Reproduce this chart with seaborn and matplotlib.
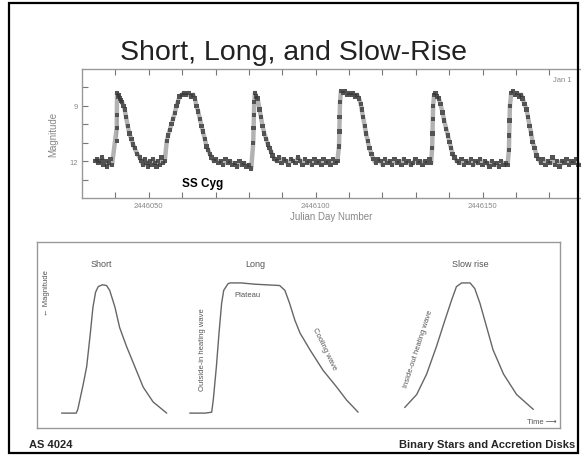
import numpy as np
import pandas as pd
import seaborn as sns
import matplotlib.pyplot as plt
from matplotlib.patches import Rectangle

# SS Cyg light curve, days after JD 2446000 and visual magnitude
JD0 = 2446000
ss_days = [34.0, 34.5, 35.0, 35.5, 36.0, 36.5, 37.0, 37.5, 38.0, 38.5, 39.0,
           40.4, 40.4, 40.4, 40.5, 40.8, 41.0, 41.3, 41.6, 42.0, 42.4, 42.8, 43.2, 43.7, 44.2, 44.8, 45.3, 45.8, 46.5, 47.3,
           47.8, 48.3, 48.8, 49.3, 49.8, 50.3, 50.8, 51.3, 51.8, 52.3, 52.8, 53.3, 53.8, 54.3, 54.8,
           55.4, 55.8, 56.3, 56.8, 57.3, 57.8, 58.3, 58.7, 59.2, 59.9, 60.5, 61.2, 61.9, 62.6, 63.3, 63.8,
           64.3, 64.8, 65.3, 65.8, 66.2, 66.8, 67.3, 67.8, 68.3,
           68.8, 69.5, 70.2, 70.9, 71.6, 72.3, 73.0, 73.7, 74.4, 75.1, 75.8, 76.5, 77.2, 77.9, 78.6, 79.3, 80.0, 80.7,
           81.3, 81.4, 81.5, 81.6, 81.8, 82.2, 82.6, 83.2, 83.6, 84.1, 84.6, 85.2, 85.7, 86.2, 86.7, 87.1,
           87.7, 88.4, 89.1, 89.8, 90.5, 91.2, 91.9, 92.6, 93.3, 94.0, 94.7, 95.4, 96.1, 96.8, 97.5, 98.2,
           98.9, 99.6, 100.3, 101.0, 101.7, 102.4, 103.1, 103.8, 104.5, 105.2, 105.9, 106.5,
           107.0, 107.1, 107.2, 107.3, 107.6, 108.2, 108.8, 109.4, 110.0, 110.6, 111.2, 111.8, 112.4, 113.0,
           113.5, 113.8, 114.2, 114.7, 115.1, 115.6, 116.1, 116.7,
           117.3, 118.0, 118.7, 119.4, 120.1, 120.8, 121.5, 122.2, 122.9, 123.6, 124.3, 125.0, 125.7, 126.4,
           127.1, 127.8, 128.5, 129.2, 129.9, 130.6, 131.3, 132.0, 132.7, 133.4, 134.1, 134.6,
           134.9, 135.0, 135.1, 135.2, 135.5, 135.9, 136.4, 136.9, 137.4, 138.0, 138.5, 139.1, 139.6, 140.1, 140.6, 141.0,
           141.6, 142.3, 143.0, 143.7, 144.4, 145.1, 145.8, 146.5, 147.2, 147.9, 148.6, 149.3, 150.0, 150.7,
           151.4, 152.1, 152.8, 153.5, 154.2, 154.9, 155.6, 156.3, 157.0, 157.5,
           157.9, 158.0, 158.1, 158.2, 158.6, 159.2, 159.8, 160.4, 161.0, 161.6, 162.0, 162.6, 163.2, 163.6,
           164.1, 164.6, 165.0, 165.6, 166.2,
           166.8, 167.5, 168.2, 168.9, 169.6, 170.3, 171.0, 171.7, 172.4, 173.1, 173.8, 174.5, 175.2, 175.9,
           176.6, 177.3, 178.0, 178.7]
ss_mag = [12.0, 11.9, 12.1, 12.0, 11.8, 12.2, 12.0, 12.3, 12.1, 11.9, 12.2,
          10.9, 10.2, 9.5, 8.3, 8.5, 8.4, 8.6, 8.7, 8.8, 9.0, 9.2, 9.6, 10.1, 10.5, 10.8, 11.1, 11.3, 11.6, 11.8,
          12.0, 12.2, 11.9, 12.1, 12.3, 12.0, 12.2, 11.9, 12.1, 12.3, 12.0, 12.2, 11.8, 12.1, 12.0,
          10.9, 10.6, 10.3, 10.0, 9.7, 9.4, 9.0, 8.8, 8.5, 8.4, 8.3, 8.4, 8.3, 8.5, 8.4, 8.6,
          9.0, 9.3, 9.7, 10.1, 10.4, 10.8, 11.2, 11.4, 11.6,
          11.8, 12.0, 11.9, 12.1, 12.0, 12.2, 11.9, 12.1, 12.0, 12.2, 12.1, 12.3, 12.0, 12.2, 12.1, 12.3, 12.2, 12.4,
          11.0, 10.2, 9.5, 8.8, 8.3, 8.5, 8.6, 9.2, 9.6, 10.1, 10.5, 10.8, 11.1, 11.3, 11.5, 11.7,
          11.9, 12.0, 11.8, 12.1, 11.9, 12.0, 12.2, 11.9, 12.0, 12.1, 11.8, 12.0, 12.2, 11.9, 12.1, 12.0,
          12.2, 11.9, 12.1, 12.0, 12.2, 11.9, 12.1, 12.0, 12.2, 11.9, 12.1, 12.0,
          11.2, 10.4, 9.6, 8.8, 8.2, 8.3, 8.2, 8.4, 8.3, 8.4, 8.3, 8.5, 8.4, 8.6,
          8.9, 9.2, 9.6, 10.1, 10.5, 10.9, 11.3, 11.6,
          11.9, 12.1, 11.9, 12.0, 12.2, 11.9, 12.1, 12.0, 12.2, 11.9, 12.1, 12.0, 12.2, 11.9,
          12.1, 12.0, 12.2, 12.1, 11.9, 12.1, 12.0, 12.2, 12.0, 12.1, 11.9, 12.1,
          11.3, 10.5, 9.7, 9.0, 8.4, 8.3, 8.5, 8.6, 8.9, 9.35, 9.8, 10.25, 10.6, 10.95, 11.3, 11.6,
          11.8, 12.0, 12.1, 11.9, 12.2, 12.0, 12.1, 11.9, 12.2, 12.0, 12.1, 11.9, 12.2, 12.0,
          12.1, 12.3, 12.0, 12.2, 12.1, 12.3, 12.0, 12.2, 12.1, 12.2,
          11.4, 10.6, 9.8, 9.0, 8.3, 8.2, 8.4, 8.3, 8.5, 8.4, 8.6, 8.9, 9.2, 9.6,
          10.1, 10.5, 10.95, 11.3, 11.7,
          11.9, 12.1, 11.9, 12.2, 12.0, 12.1, 11.8, 12.2, 12.0, 12.3, 12.0, 12.1, 11.9, 12.2,
          12.0, 12.1, 11.9, 12.2]

# schematic outburst profiles (arbitrary time units 0-100, brightness 0-10)
short_t = [4.7, 7.5, 7.8, 8.8, 9.5, 10.2, 10.7, 11.2, 11.7, 12.5, 13.3, 13.9, 14.9, 15.8, 17.1, 18.7, 20.3, 22.2, 24.8]
short_b = [0.8, 0.8, 1.0, 2.3, 3.3, 5.1, 6.5, 7.3, 7.6, 7.7, 7.66, 7.4, 6.5, 5.4, 4.4, 3.3, 2.2, 1.4, 0.8]
long_t = [29.2, 32.1, 33.4, 33.7, 34.3, 34.8, 35.3, 35.7, 36.5, 36.9, 39.0, 41.7, 46.4, 47.4, 48.3, 49.3,
          50.3, 52.2, 54.7, 57.3, 59.2, 61.4]
long_b = [0.8, 0.8, 0.85, 1.5, 3.3, 5.1, 6.7, 7.4, 7.75, 7.8, 7.8, 7.73, 7.66, 7.4, 6.7, 5.8,
          5.1, 4.2, 3.1, 2.2, 1.5, 0.85]
slow_t = [70.3, 72.6, 74.5, 76.4, 78.0, 79.3, 80.2, 81.2, 82.8, 83.7, 84.7, 86.0, 87.2, 89.2, 91.7, 94.9]
slow_b = [1.1, 1.8, 2.9, 4.4, 5.8, 6.9, 7.6, 7.8, 7.8, 7.5, 6.7, 5.4, 4.2, 2.9, 1.8, 1.0]

sns.set_style('white')
plt.rcParams['font.family'] = ['Liberation Sans', 'DejaVu Sans']

W, H = 581, 456
fig = plt.figure(figsize=(W / 100, H / 100), dpi=100)

def box(x0, y0, x1, y1):
    return [x0 / W, 1 - y1 / H, (x1 - x0) / W, (y1 - y0) / H]

fig.text(294 / W, 1 - 53 / H, 'Short, Long, and Slow-Rise', ha='center', va='center',
         fontsize=20.5, color='#222222')

# --- top panel: SS Cyg light curve
lc = pd.DataFrame({'jd': [JD0 + d for d in ss_days], 'mag': ss_mag})
ax1 = fig.add_axes(box(82, 70, 581, 199))
sns.lineplot(data=lc, x='jd', y='mag', sort=False, color='#555555', lw=3.2, alpha=0.45, ax=ax1)
sns.scatterplot(data=lc, x='jd', y='mag', marker='s', s=10, color='#1a1a1a', edgecolor='none',
                alpha=0.75, ax=ax1)
ax1.set_xlim(JD0 + 30, JD0 + 179.5)
ax1.set_ylim(14, 7)
xt = list(range(JD0 + 40, JD0 + 180, 10))
ax1.set_xticks(xt)
ax1.set_xticklabels([str(v) if v % 50 == 0 else '' for v in xt], fontsize=5.5, color='#888888')
ax1.set_yticks([8, 9, 10, 11, 12, 13])
ax1.set_yticklabels(['', '9', '', '', '12', ''], fontsize=5.5, color='#888888')
ax1.tick_params(direction='in', length=4, width=0.8, color='#777777', top=True, left=True,
                bottom=True, pad=3)
for s in ['left', 'top', 'bottom']:
    ax1.spines[s].set_color('#999999')
    ax1.spines[s].set_linewidth(1.0)
ax1.spines['right'].set_visible(False)
ax1.set_xlabel('Julian Day Number', fontsize=7, color='#888888', labelpad=1)
ax1.set_ylabel('Magnitude', fontsize=7, color='#888888', labelpad=8)
ax1.text(JD0 + 66, 13.2, 'SS Cyg', fontsize=8.5, fontweight='bold', color='black',
         ha='center', va='center')
ax1.text(JD0 + 171, 7.55, 'Jan 1', fontsize=5.5, color='#888888', ha='left', va='center')

# --- bottom panel: schematic outburst types
ax2 = fig.add_axes(box(37, 243, 560, 429))
for t, b in [(short_t, short_b), (long_t, long_b), (slow_t, slow_b)]:
    sns.lineplot(x=t, y=b, sort=False, color='#666666', lw=1.0, ax=ax2)
ax2.set_xlim(0, 100)
ax2.set_ylim(0, 10)
ax2.set_xticks([])
ax2.set_yticks([])
for s in ax2.spines.values():
    s.set_color('#999999')
    s.set_linewidth(1.0)

grey = '#555555'
ax2.text(12.3, 8.87, 'Short', fontsize=6.5, color=grey, ha='center', va='center')
ax2.text(41.8, 8.87, 'Long', fontsize=6.5, color=grey, ha='center', va='center')
ax2.text(82.8, 8.87, 'Slow rise', fontsize=6.5, color=grey, ha='center', va='center')
ax2.text(40.3, 7.2, 'Plateau', fontsize=5.5, color=grey, ha='center', va='center')
ax2.text(31.7, 4.25, 'Outside-in heating wave', fontsize=5.5, color=grey, rotation=90,
         ha='center', va='center')
ax2.text(55.0, 4.3, 'Cooling wave', fontsize=5.5, color=grey, rotation=-64,
         ha='center', va='center', rotation_mode='anchor')
ax2.text(72.9, 4.3, 'Inside-out heating wave', fontsize=5.5, color=grey, rotation=72,
         ha='center', va='center', rotation_mode='anchor')
ax2.text(1.8, 7.3, '\u2190 Magnitude', fontsize=5.5, color=grey, rotation=90,
         ha='center', va='center')
ax2.text(99.4, 0.35, 'Time \u27f6', fontsize=5.5, color=grey, ha='right', va='center')

# slide footer and frame
fig.text(29 / W, 1 - 445 / H, 'AS 4024', fontsize=8, fontweight='bold', ha='left', va='center')
fig.text(575 / W, 1 - 445 / H, 'Binary Stars and Accretion Disks', fontsize=8, fontweight='bold',
         ha='right', va='center')
fig.add_artist(Rectangle((9 / W, 1 - 454 / H), (578 - 9) / W, (454 - 4) / H,
                         transform=fig.transFigure, fill=False, lw=1.6, ec='black'))

plt.savefig('out.png', dpi=100, facecolor='w')
